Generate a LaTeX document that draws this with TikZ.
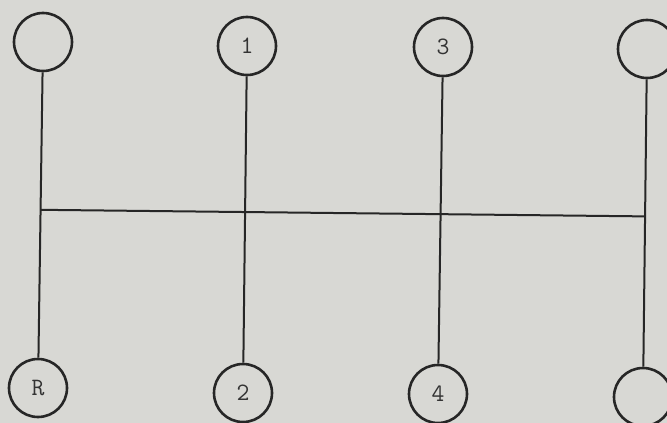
\documentclass[tikz,border=0pt]{standalone}
\usetikzlibrary{calc}
\begin{document}
\begin{tikzpicture}[x=1pt,y=-1pt,
  gear/.style={circle,draw=black!85,line width=2.6pt,minimum size=58pt,inner sep=0pt,
    font=\ttfamily\fontsize{25}{26}\selectfont,text=black!80},
  rod/.style={draw=black!85,line width=2pt}]
\fill[fill={rgb,255:red,216;green,216;blue,212}] (0,0) rectangle (667,423);
\clip (0,0) rectangle (667,423);
\useasboundingbox (0,0) rectangle (667,423);
\node[gear] (t1) at (43,42) {};
\node[gear] (t2) at (247,46) {1};
\node[gear] (t3) at (443,47) {3};
\node[gear] (t4) at (647,49) {};
\node[gear] (b1) at (38,388) {R};
\node[gear] (b2) at (243,393) {2};
\node[gear] (b3) at (438,394) {4};
\node[gear] (b4) at (643,397) {};
\draw[rod] (t1) -- (b1);
\draw[rod] (t2) -- (b2);
\draw[rod] (t3) -- (b3);
\draw[rod] (t4) -- (b4);
\coordinate (hl) at ($(t1)!0.485!(b1)$);
\coordinate (hr) at ($(t4)!0.481!(b4)$);
\draw[rod] (hl) -- (hr);
\end{tikzpicture}
\end{document}
